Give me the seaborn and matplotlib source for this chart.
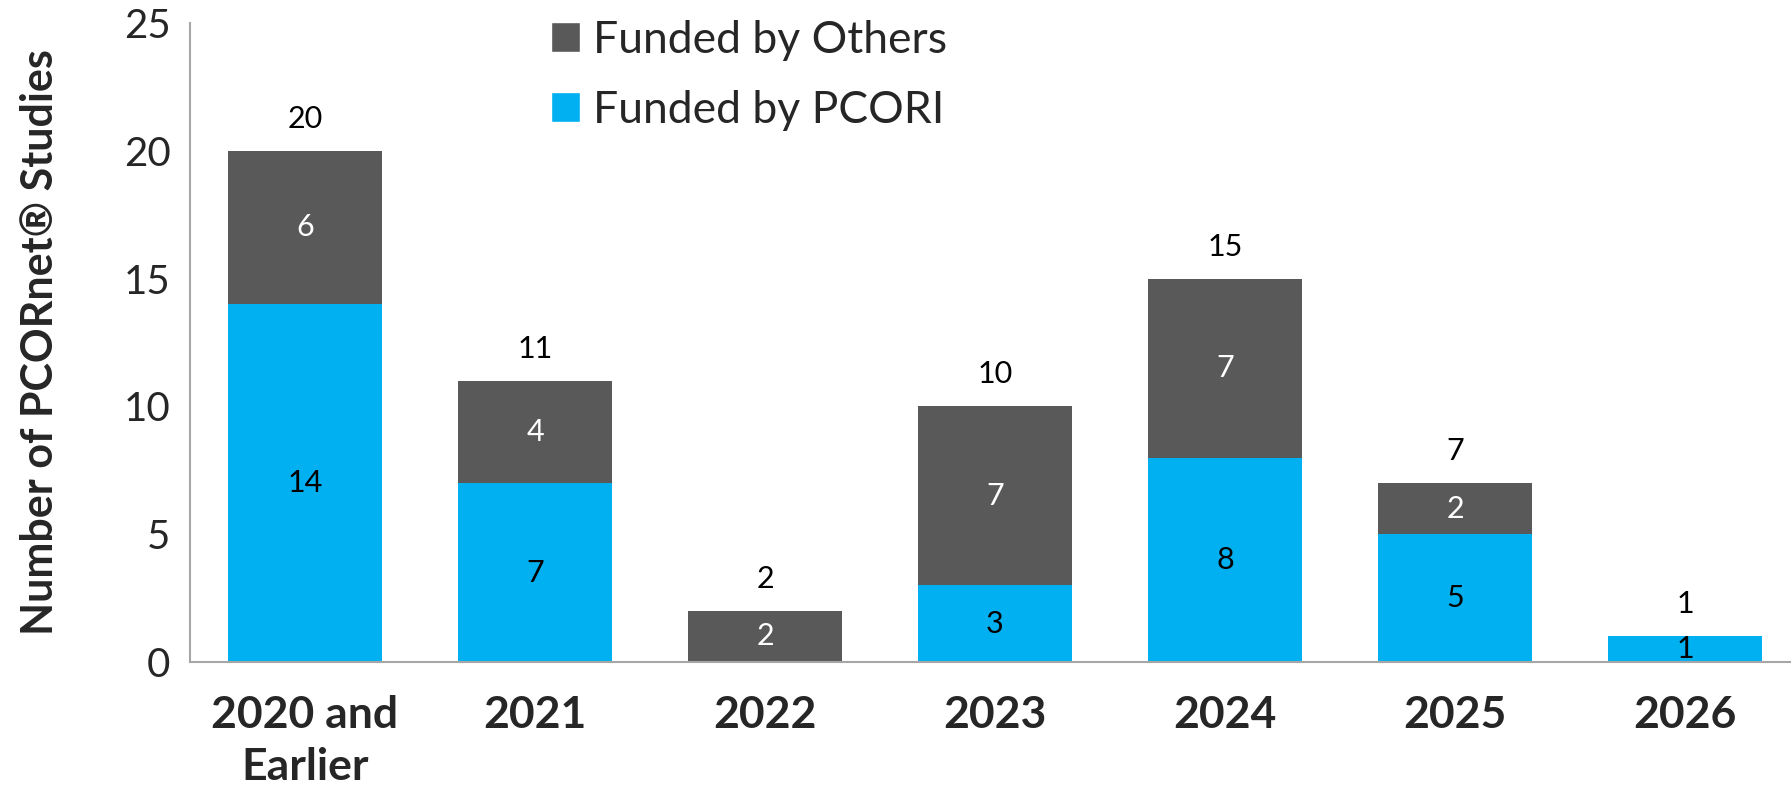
import matplotlib
matplotlib.use("Agg")
import matplotlib.pyplot as plt
import seaborn as sns
import pandas as pd
from matplotlib.patches import Patch

years = ["2020 and\nEarlier", "2021", "2022", "2023", "2024", "2025", "2026"]
pcori = [14, 7, 0, 3, 8, 5, 1]
others = [6, 4, 2, 7, 7, 2, 0]
totals = [p + o for p, o in zip(pcori, others)]

blue = "#00B0F0"
gray = "#595959"
axis_col = "#A6A6A6"

sns.set_style("white")
plt.rcParams['font.family'] = ['Lato', 'DejaVu Sans']

df = pd.DataFrame({"year": years, "pcori": pcori, "others": others, "total": totals})

fig = plt.figure(figsize=(17.91, 7.90), dpi=100)
ax = fig.add_axes([190 / 1791, 1 - 662 / 790, 1610 / 1791, (662 - 23) / 790])

# total bar in gray, pcori part drawn over it
sns.barplot(data=df, x="year", y="total", color=gray, width=0.67, saturation=1, linewidth=0, ax=ax)
sns.barplot(data=df, x="year", y="pcori", color=blue, width=0.67, saturation=1, linewidth=0, ax=ax)

for i in range(len(years)):
    if pcori[i] > 0:
        ax.text(i, pcori[i] / 2, str(pcori[i]), ha="center", va="center", fontsize=22, color="black")
    if others[i] > 0:
        ax.text(i, pcori[i] + others[i] / 2, str(others[i]), ha="center", va="center", fontsize=22, color="white")
    ax.text(i, totals[i] + 1.25, str(totals[i]), ha="center", va="center", fontsize=22, color="black")

ax.set_xlim(-0.5, 6.5)
ax.set_ylim(0, 25)
ax.set_yticks([0, 5, 10, 15, 20, 25])
ax.set_xlabel("")
ax.set_ylabel("Number of PCORnet® Studies", fontsize=31, fontweight="bold")
ax.yaxis.set_label_coords(-0.081, 0.5)

ax.set_xticks(range(len(years)))
ax.set_xticklabels(years, fontsize=32, fontweight="bold", linespacing=1.35)
ax.set_xticks([k + 0.5 for k in range(-1, len(years))], minor=True)
ax.tick_params(axis="x", which="major", length=0, pad=24)
ax.tick_params(axis="x", which="minor", length=11, width=1.5, color=axis_col, direction="out")
ax.tick_params(axis="y", length=9, width=1.5, color=axis_col, labelsize=29, pad=5, direction="out")

sns.despine(ax=ax, top=True, right=True)
for s in ["left", "bottom"]:
    ax.spines[s].set_color(axis_col)
    ax.spines[s].set_linewidth(1.5)

handles = [Patch(facecolor=gray, label="Funded by Others"),
           Patch(facecolor=blue, label="Funded by PCORI")]
fig.legend(handles=handles, loc="upper left", bbox_to_anchor=(533 / 1791, 1 - 2 / 790),
           frameon=False, fontsize=32, handlelength=0.65, handleheight=0.65,
           handletextpad=0.3, labelspacing=0.65, borderaxespad=0)

fig.savefig("out.png", dpi=100)
